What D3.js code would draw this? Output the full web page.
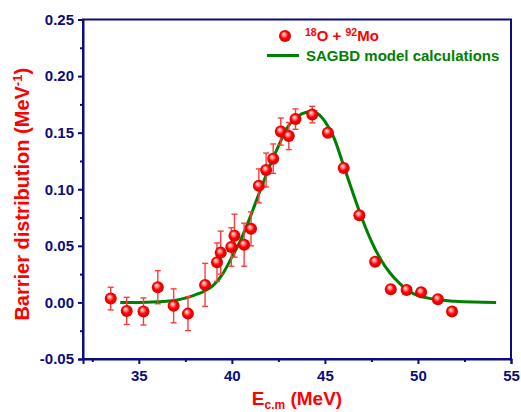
<!DOCTYPE html>
<html>
<head>
<meta charset="utf-8">
<script src="https://cdn.jsdelivr.net/npm/d3@7"></script>
<style>
  body { margin: 0; background: #fff; }
  svg { display: block; font-family: "Liberation Sans", Arial, sans-serif; }
</style>
</head>
<body>
<div id="chart"></div>
<script>
// measured barrier distribution, 18O + 92Mo
const energy = [33.49, 34.35, 35.25, 36.02, 36.87, 37.64, 38.56, 39.2, 39.4, 39.97, 40.14, 40.66,
                41.03, 41.45, 41.84, 42.22, 42.63, 43.06, 43.42, 44.32, 45.16, 46.01, 46.85, 47.7,
                48.54, 49.39, 50.17, 51.07, 51.83];
const barrier = [0.0034, -0.0075, -0.008, 0.0134, -0.003, -0.0099, 0.0155, 0.0355, 0.044, 0.049, 0.059, 0.051,
                 0.065, 0.103, 0.117, 0.127, 0.151, 0.147, 0.162, 0.166, 0.150, 0.1188, 0.077, 0.036,
                 0.0117, 0.011, 0.009, 0.0028, -0.0081];
const barrierErr = [0.010, 0.012, 0.012, 0.0146, 0.015, 0.015, 0.019, 0.017, 0.019, 0.017, 0.019, 0.019,
                    0.015, 0.015, 0.015, 0.013, 0.012, 0.012, 0.009, 0.0073, 0, 0, 0, 0,
                    0, 0, 0, 0, 0];

// SAGBD model curve
const modelE = [34.0, 35.0, 36.0, 36.5, 37.0, 37.5, 38.0, 38.5, 39.0, 39.5, 40.0, 40.5, 41.0, 41.5, 42.0, 42.5,
                43.0, 43.5, 44.0, 44.3, 44.6, 45.0, 45.5, 46.0, 46.5, 47.0, 47.5, 48.0, 48.5, 49.0,
                49.5, 50.0, 50.5, 51.0, 52.0, 53.0, 54.2];
const modelB = [0.000, 0.000, 0.0005, 0.001, 0.002, 0.0038, 0.0065, 0.0098, 0.015, 0.025, 0.040, 0.056, 0.076, 0.098, 0.119, 0.138,
                0.155, 0.164, 0.168, 0.1685, 0.167, 0.160, 0.145, 0.121, 0.097, 0.074, 0.054, 0.038, 0.026, 0.017,
                0.010, 0.006, 0.004, 0.0025, 0.001, 0.0003, 0.000];

const xTicks = [35, 40, 45, 50, 55];
const xMinor = [32.5, 37.5, 42.5, 47.5, 52.5];
const yTicks = [-0.05, 0.00, 0.05, 0.10, 0.15, 0.20, 0.25];
const yMinor = [-0.025, 0.025, 0.075, 0.125, 0.175, 0.225];

const width = 521, height = 412;
const margin = { top: 19.5, right: 10, bottom: 53, left: 83 };
const navy = "#0c0c7e", red = "#ff0000", green = "#008000";

const svg = d3.select("#chart").append("svg")
    .attr("width", width)
    .attr("height", height);

const defs = svg.append("defs");
const grad = defs.append("radialGradient")
    .attr("id", "ball")
    .attr("cx", "50%").attr("cy", "50%").attr("r", "55%")
    .attr("fx", "38%").attr("fy", "32%");
grad.append("stop").attr("offset", "0%").attr("stop-color", "#ffffff");
grad.append("stop").attr("offset", "22%").attr("stop-color", "#ff9a9a");
grad.append("stop").attr("offset", "55%").attr("stop-color", "#ff0000");
grad.append("stop").attr("offset", "100%").attr("stop-color", "#d00000");

const x = d3.scaleLinear().domain([32, 55]).range([margin.left, width - margin.right]);
const y = d3.scaleLinear().domain([-0.05, 0.25]).range([height - margin.bottom, margin.top]);

// frame
svg.append("rect")
    .attr("x", x(32)).attr("y", y(0.25))
    .attr("width", x(55) - x(32)).attr("height", y(-0.05) - y(0.25))
    .attr("fill", "none").attr("stroke", navy).attr("stroke-width", 2);

// axes
svg.append("g")
    .attr("transform", `translate(0,${y(-0.05)})`)
    .call(d3.axisBottom(x).tickValues(xTicks).tickSize(5).tickPadding(6).tickFormat(d3.format("d")));
svg.append("g")
    .attr("transform", `translate(0,${y(-0.05)})`)
    .call(d3.axisBottom(x).tickValues(xMinor).tickSize(3).tickFormat(""))
    .call(g => g.select(".domain").remove());

const yAxis = svg.append("g")
    .attr("transform", `translate(${x(32)},0)`)
    .call(d3.axisLeft(y).tickValues(yTicks).tickSize(5).tickPadding(4).tickFormat(d3.format(".2f")));
svg.append("g")
    .attr("transform", `translate(${x(32)},0)`)
    .call(d3.axisLeft(y).tickValues(yMinor).tickSize(3).tickFormat(""))
    .call(g => g.select(".domain").remove());

svg.selectAll(".domain").attr("stroke", navy).attr("stroke-width", 2);
svg.selectAll(".tick line").attr("stroke", navy).attr("stroke-width", 2);
svg.selectAll(".tick text")
    .attr("fill", navy)
    .style("font-size", "15px")
    .style("font-weight", "bold")
    .style("font-family", "'Liberation Sans', Arial, sans-serif");
yAxis.selectAll(".tick text").text(d => d3.format(".2f")(d).replace("−", "-"));

// axis titles
svg.append("text")
    .attr("transform", `translate(29,${(y(0.25) + y(-0.05)) / 2 + 5}) rotate(-90)`)
    .attr("text-anchor", "middle")
    .attr("fill", red)
    .style("font-size", "20px")
    .style("font-weight", "bold")
    .html('Barrier distribution (MeV<tspan dy="-7" font-size="13">-1</tspan><tspan dy="7">)</tspan>');

svg.append("text")
    .attr("x", 297).attr("y", 405)
    .attr("text-anchor", "middle")
    .attr("fill", red)
    .style("font-size", "19px")
    .style("font-weight", "bold")
    .html('E<tspan dy="4" font-size="12">c.m</tspan><tspan dy="-4"> (MeV)</tspan>');

// model curve
const modelData = modelE.map((e, i) => ({ e: e, b: modelB[i] }));
svg.append("path")
    .datum(modelData)
    .attr("fill", "none")
    .attr("stroke", green)
    .attr("stroke-width", 3)
    .attr("d", d3.line().x(d => x(d.e)).y(d => y(d.b)).curve(d3.curveMonotoneX));

// data points with error bars
const pts = energy.map((e, i) => ({ e: e, b: barrier[i], err: barrierErr[i] }));
const bars = svg.append("g").selectAll("g")
    .data(pts.filter(d => d.err > 0))
    .enter().append("g")
    .attr("stroke", "#ff3b3b")
    .attr("stroke-width", 1.4);
bars.append("line")
    .attr("x1", d => x(d.e)).attr("x2", d => x(d.e))
    .attr("y1", d => y(d.b - d.err)).attr("y2", d => y(d.b + d.err));
bars.append("line")
    .attr("x1", d => x(d.e) - 3).attr("x2", d => x(d.e) + 3)
    .attr("y1", d => y(d.b + d.err)).attr("y2", d => y(d.b + d.err));
bars.append("line")
    .attr("x1", d => x(d.e) - 3).attr("x2", d => x(d.e) + 3)
    .attr("y1", d => y(d.b - d.err)).attr("y2", d => y(d.b - d.err));

svg.append("g").selectAll("circle")
    .data(pts)
    .enter().append("circle")
    .attr("cx", d => x(d.e))
    .attr("cy", d => y(d.b))
    .attr("r", 6)
    .attr("fill", "url(#ball)");

// legend
const legend = svg.append("g");
legend.append("circle")
    .attr("cx", 285).attr("cy", 36).attr("r", 6)
    .attr("fill", "url(#ball)");
legend.append("text")
    .attr("x", 305).attr("y", 41)
    .attr("fill", red)
    .style("font-size", "15px")
    .style("font-weight", "bold")
    .html('<tspan dy="-5" font-size="10.5">18</tspan><tspan dy="5">O + </tspan><tspan dy="-5" font-size="10.5">92</tspan><tspan dy="5">Mo</tspan>');
legend.append("line")
    .attr("x1", 267).attr("x2", 299)
    .attr("y1", 55.5).attr("y2", 55.5)
    .attr("stroke", green).attr("stroke-width", 3);
legend.append("text")
    .attr("x", 306).attr("y", 61)
    .attr("fill", green)
    .style("font-size", "15px")
    .style("font-weight", "bold")
    .text("SAGBD model calculations");
</script>
</body>
</html>
